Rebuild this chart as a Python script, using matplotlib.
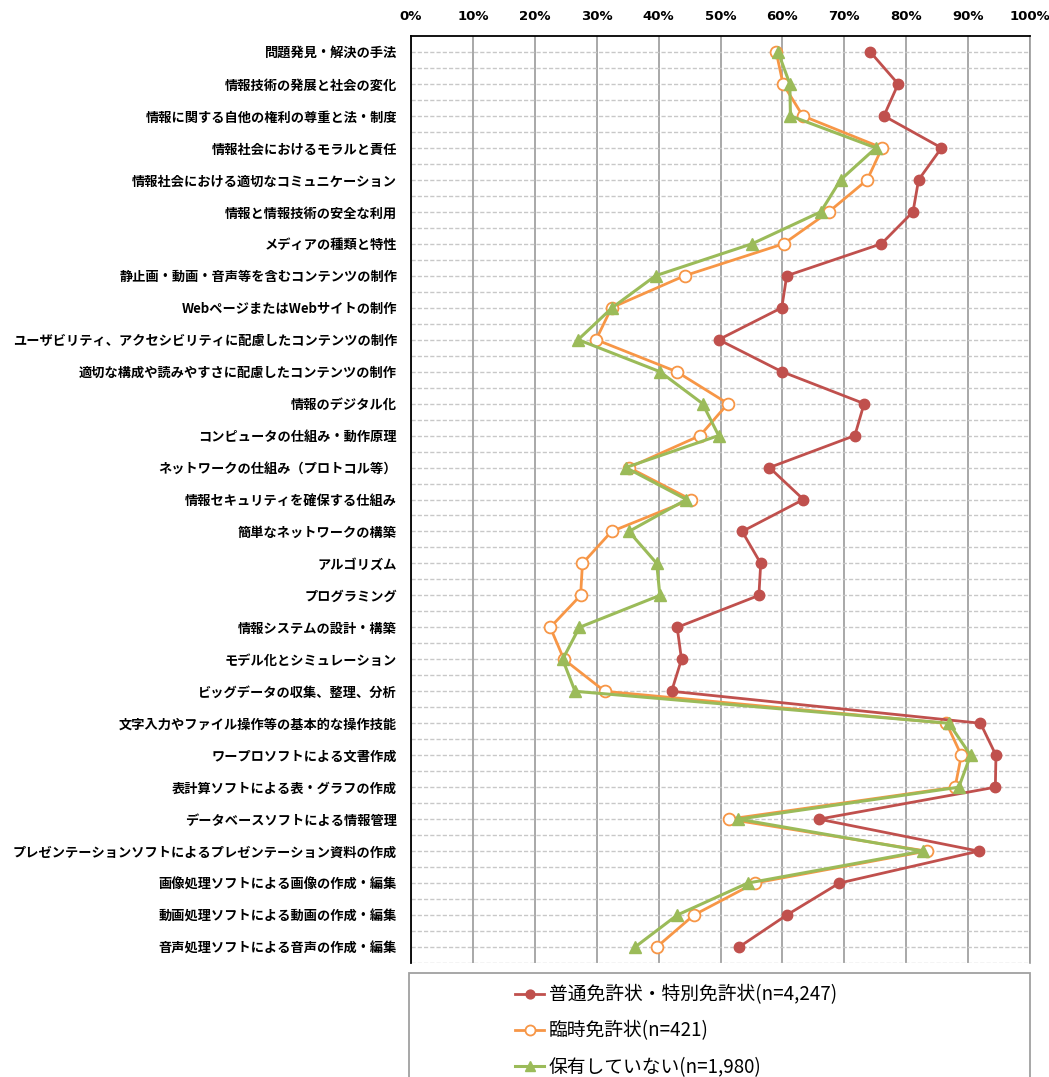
import numpy as np
import matplotlib
matplotlib.use("Agg")
from matplotlib import pyplot as plt
from matplotlib.patches import Rectangle

plt.rcParams['font.family'] = ['Noto Sans CJK JP', 'DejaVu Sans']

categories = [
    '問題発見・解決の手法',
    '情報技術の発展と社会の変化',
    '情報に関する自他の権利の尊重と法・制度',
    '情報社会におけるモラルと責任',
    '情報社会における適切なコミュニケーション',
    '情報と情報技術の安全な利用',
    'メディアの種類と特性',
    '静止画・動画・音声等を含むコンテンツの制作',
    'WebページまたはWebサイトの制作',
    'ユーザビリティ、アクセシビリティに配慮したコンテンツの制作',
    '適切な構成や読みやすさに配慮したコンテンツの制作',
    '情報のデジタル化',
    'コンピュータの仕組み・動作原理',
    'ネットワークの仕組み（プロトコル等）',
    '情報セキュリティを確保する仕組み',
    '簡単なネットワークの構築',
    'アルゴリズム',
    'プログラミング',
    '情報システムの設計・構築',
    'モデル化とシミュレーション',
    'ビッグデータの収集、整理、分析',
    '文字入力やファイル操作等の基本的な操作技能',
    'ワープロソフトによる文書作成',
    '表計算ソフトによる表・グラフの作成',
    'データベースソフトによる情報管理',
    'プレゼンテーションソフトによるプレゼンテーション資料の作成',
    '画像処理ソフトによる画像の作成・編集',
    '動画処理ソフトによる動画の作成・編集',
    '音声処理ソフトによる音声の作成・編集',
]

futsu = [74.2, 78.7, 76.4, 85.7, 82.0, 81.1, 76.0, 60.7, 59.9, 49.7,
         59.9, 73.2, 71.7, 57.9, 63.4, 53.5, 56.5, 56.2, 43.0, 43.7,
         42.1, 92.0, 94.5, 94.4, 65.9, 91.7, 69.2, 60.7, 53.0]
rinji = [59.0, 60.1, 63.3, 76.1, 73.7, 67.5, 60.2, 44.2, 32.4, 29.9,
         42.9, 51.2, 46.7, 35.2, 45.2, 32.4, 27.7, 27.4, 22.5, 24.7,
         31.3, 86.5, 88.9, 87.9, 51.3, 83.3, 55.5, 45.7, 39.7]
nashi = [59.3, 61.2, 61.3, 75.1, 69.4, 66.2, 55.1, 39.5, 32.5, 27.0,
         40.2, 47.1, 49.7, 34.7, 44.5, 35.2, 39.7, 40.2, 27.2, 24.5,
         26.5, 86.9, 90.4, 88.5, 52.9, 82.7, 54.4, 43.0, 36.2]

labels = ['普通免許状・特別免許状(n=4,247)', '臨時免許状(n=421)', '保有していない(n=1,980)']

W, H = 1049, 1077
fig = plt.figure(figsize=(W / 100, H / 100), dpi=100)
ax = fig.add_axes([411 / W, 1 - 963 / H, (1030 - 411) / W, (963 - 36) / H])

y = np.arange(len(categories))
l1, = ax.plot(futsu, y, color='#c0504d', lw=2, marker='o', ms=7.5,
              markerfacecolor='#c0504d', markeredgecolor='#c0504d', zorder=5)
l2, = ax.plot(rinji, y, color='#f79646', lw=2, marker='o', ms=8.5,
              markerfacecolor='white', markeredgecolor='#f79646',
              markeredgewidth=1.3, zorder=4)
l3, = ax.plot(nashi, y, color='#9bbb59', lw=2.2, marker='^', ms=8,
              markerfacecolor='#9bbb59', markeredgecolor='#9bbb59', zorder=6)

ax.set_xlim(0, 100)
ax.set_ylim(len(categories) - 0.5, -0.5)
ax.set_xticks(np.arange(0, 101, 10))
ax.set_xticklabels([f'{v}%' for v in range(0, 101, 10)], fontsize=9.5,
                   fontweight='bold',
                   family=['Liberation Sans Narrow', 'DejaVu Sans'])
ax.xaxis.tick_top()
ax.tick_params(axis='x', length=0, pad=9)
ax.set_yticks(y)
ax.set_yticklabels(categories, fontsize=9.5, fontweight='bold')
ax.set_yticks(np.arange(len(categories)) + 0.5, minor=True)
ax.tick_params(axis='y', which='both', length=0, pad=10)

ax.grid(axis='x', color='#9a9a9a', lw=1.2, ls='-')
ax.grid(axis='y', which='both', color='#c8c8c8', lw=1.0, ls=(0, (3, 1.5)))
ax.set_axisbelow(True)

for side in ['left', 'top']:
    ax.spines[side].set_color('black')
    ax.spines[side].set_linewidth(1.3)
ax.spines['right'].set_color('#9a9a9a')
ax.spines['right'].set_linewidth(1.2)
ax.spines['bottom'].set_visible(False)

# legend box below the plot, cut off at the bottom edge
fig.patches.append(Rectangle((409 / W, -0.02), (1030 - 409) / W, 0.02 + (1 - 973 / H),
                             transform=fig.transFigure, fill=False,
                             edgecolor='#a0a0a0', lw=1.3))
fig.legend([l1, l2, l3], labels, loc='upper left',
           bbox_to_anchor=(502 / W, 1 - 971 / H), frameon=False,
           fontsize=13.5, handlelength=1.55, handletextpad=0.25,
           labelspacing=0.82, markerscale=0.85, borderaxespad=0.3)

fig.savefig('out.png', dpi=100)
